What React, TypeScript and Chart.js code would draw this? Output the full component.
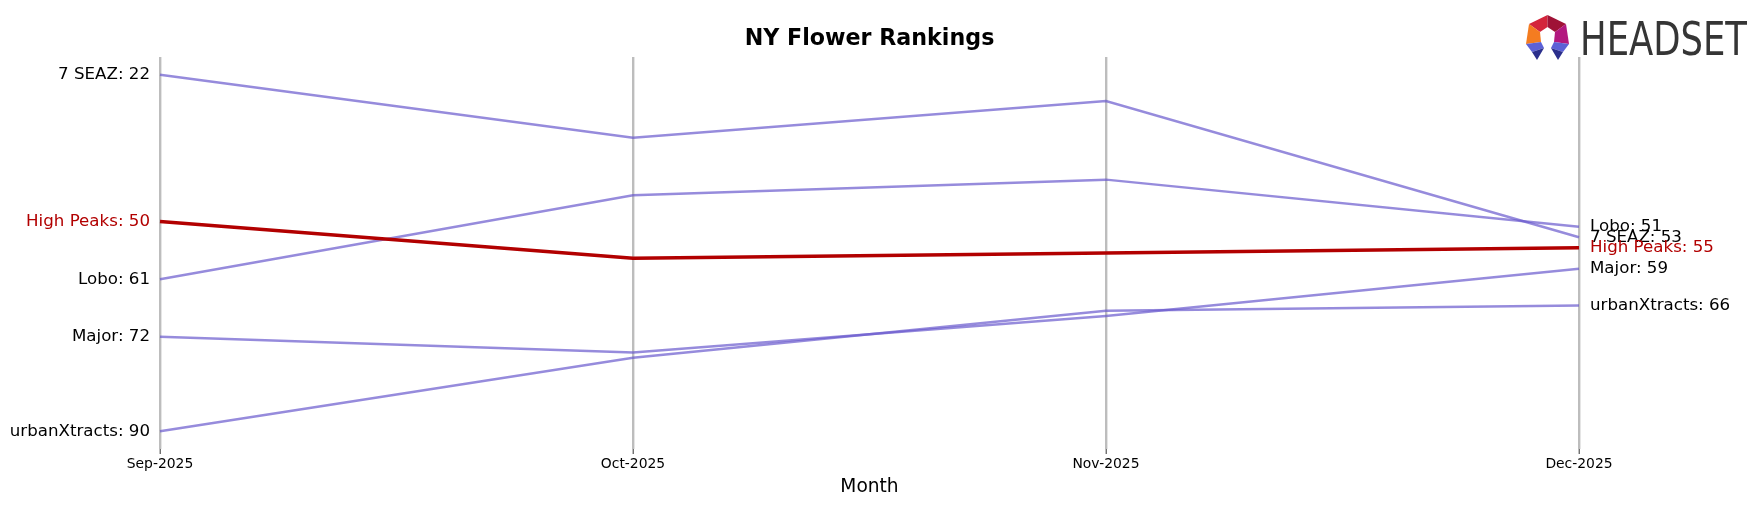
import React, { useEffect, useRef } from "react";
import { Chart, registerables } from "chart.js";

Chart.register(...registerables);

const chartTitle = "NY Flower Rankings";
const xTitle = "Month";
const months = ["Sep-2025", "Oct-2025", "Nov-2025", "Dec-2025"];

const sevenSeaz = [22, 34, 27, 53];
const lobo = [61, 45, 42, 51];
const major = [72, 75, 68, 59];
const urbanXtracts = [90, 76, 67, 66];
const highPeaks = [50, 57, 56, 55];

const brandNames = ["7 SEAZ", "Lobo", "Major", "urbanXtracts", "High Peaks"];
const brandRanks = [sevenSeaz, lobo, major, urbanXtracts, highPeaks];
const highlightBrand = "High Peaks";

const RED = "#b20000";
const PURPLE = "rgba(106, 90, 205, 0.7)";
const FONT = '"DejaVu Sans", sans-serif';

const W = 1745;
const H = 491;

export default function App() {
  const ref = useRef<HTMLCanvasElement | null>(null);

  useEffect(() => {
    if (!ref.current) return;

    const datasets = brandNames.map((name, i) => {
      const hl = name === highlightBrand;
      return {
        label: name,
        data: brandRanks[i],
        borderColor: hl ? RED : PURPLE,
        backgroundColor: hl ? RED : PURPLE,
        borderWidth: hl ? 3.6 : 2.5,
        pointRadius: 0,
        tension: 0,
        fill: false,
        order: hl ? 0 : 1,
      };
    });

    const firstVals = brandRanks.map((r) => r[0]);
    const firstLabel: Record<number, string> = {};
    brandNames.forEach((n, i) => (firstLabel[brandRanks[i][0]] = n));

    const titlePlugin = {
      id: "customTitle",
      afterDraw(chart: any) {
        const { ctx, chartArea } = chart;
        ctx.save();
        ctx.font = `bold 22.2px ${FONT}`;
        ctx.fillStyle = "#000";
        ctx.textAlign = "center";
        ctx.textBaseline = "middle";
        ctx.fillText(chartTitle, (chartArea.left + chartArea.right) / 2, 31);
        ctx.restore();
      },
    };

    const rightLabels = {
      id: "rightLabels",
      afterDatasetsDraw(chart: any) {
        const { ctx, chartArea, scales } = chart;
        ctx.save();
        ctx.font = `16.67px ${FONT}`;
        ctx.textAlign = "left";
        ctx.textBaseline = "middle";
        brandNames.forEach((name, i) => {
          const r = brandRanks[i];
          const v = r[r.length - 1];
          ctx.fillStyle = name === highlightBrand ? RED : "#000";
          ctx.fillText(`${name}: ${v}`, chartArea.right + 11, scales.y.getPixelForValue(v));
        });
        ctx.restore();
      },
    };

    const chart = new Chart(ref.current, {
      type: "line",
      data: { labels: months, datasets: datasets as any },
      options: {
        animation: false,
        responsive: false,
        devicePixelRatio: 1,
        layout: { padding: { top: 49, right: 174, left: 0, bottom: 0 } },
        plugins: {
          legend: { display: false },
          title: { display: false },
          tooltip: { enabled: false },
        },
        scales: {
          x: {
            type: "category",
            offset: false,
            afterFit: (s: any) => {
              s.height = 50;
            },
            grid: {
              display: true,
              color: "#bdbdbd",
              lineWidth: 2.4,
              drawTicks: true,
              tickLength: 5,
              tickColor: "#333",
              tickWidth: 1,
            },
            border: { display: false },
            ticks: {
              color: "#000",
              font: { family: FONT, size: 13.9 },
              padding: 2,
              maxRotation: 0,
              autoSkip: false,
            },
            title: {
              display: true,
              text: xTitle,
              color: "#000",
              font: { family: FONT, size: 18.6 },
              padding: { top: 0, bottom: 1 },
            },
          },
          y: {
            type: "linear",
            reverse: true,
            min: 18.6,
            max: 93.4,
            afterFit: (s: any) => {
              s.width = 152;
            },
            afterBuildTicks: (s: any) => {
              s.ticks = firstVals.map((v) => ({ value: v }));
            },
            grid: { display: false, drawTicks: false },
            border: { display: false },
            ticks: {
              autoSkip: false,
              padding: 10,
              font: { family: FONT, size: 16.67 },
              color: (c: any) =>
                firstLabel[c.tick?.value] === highlightBrand ? RED : "#000",
              callback: (v: any) => `${firstLabel[v]}: ${v}`,
            },
          },
        },
      },
      plugins: [titlePlugin, rightLabels],
    });

    return () => chart.destroy();
  }, []);

  return (
    <div style={{ position: "relative", width: W, height: H }}>
      <canvas ref={ref} width={W} height={H} style={{ display: "block", width: W, height: H }} />
      <svg
        width={235}
        height={60}
        style={{ position: "absolute", left: 1510, top: 0 }}
      >
        <g transform="translate(7,7)">
          <polygon points="22.5,0 4,9 15,17 22.5,12" fill="#d3253b" />
          <polygon points="22.5,0 41,9 30,17 22.5,12" fill="#9f1236" />
          <polygon points="4,9 1,29 16,27 15,17" fill="#f47c20" />
          <polygon points="41,9 44,29 29,27 30,17" fill="#b3187f" />
          <polygon points="1,29 16,27 19,33 7,37" fill="#5c61d6" />
          <polygon points="7,37 19,33 12,45" fill="#2b2f8c" />
          <polygon points="44,29 29,27 26,33 38,37" fill="#5c61d6" />
          <polygon points="38,37 26,33 33,45" fill="#2b2f8c" />
        </g>
        <text
          x={62}
          y={47}
          fill="#353535"
          fontFamily='"Liberation Sans Narrow", "DejaVu Sans Condensed", sans-serif'
          fontSize={46.5}
          textLength={167}
          lengthAdjust="spacingAndGlyphs"
        >
          HEADSET
        </text>
      </svg>
    </div>
  );
}
